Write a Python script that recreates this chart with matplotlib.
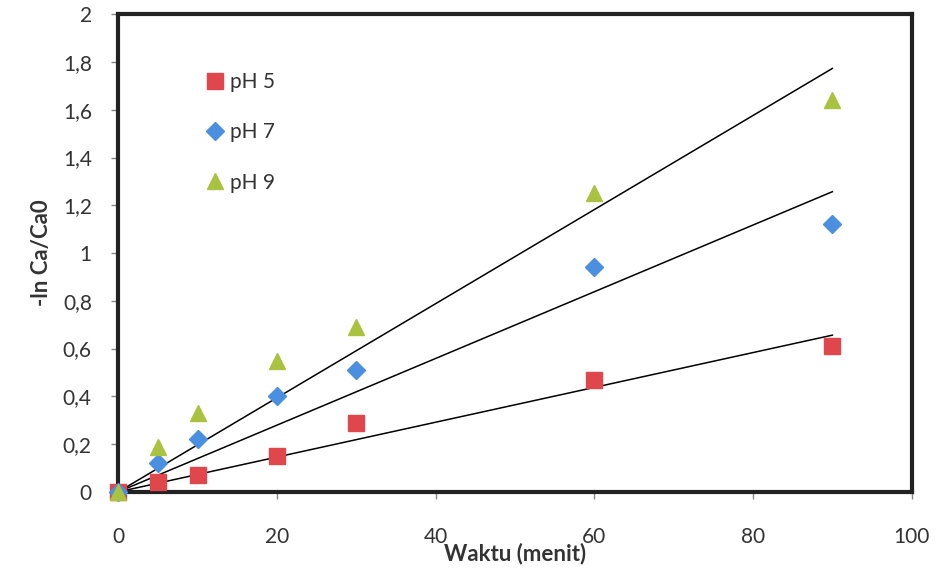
import numpy as np
import matplotlib.pyplot as plt

# Data
waktu = [0, 5, 10, 20, 30, 60, 90]
ph5 = [0, 0.04, 0.07, 0.15, 0.29, 0.47, 0.61]
ph7 = [0, 0.12, 0.22, 0.40, 0.51, 0.94, 1.12]
ph9 = [0, 0.19, 0.33, 0.55, 0.69, 1.25, 1.64]

plt.rcParams['font.family'] = ['Lato', 'DejaVu Sans']

fig = plt.figure(figsize=(9.38, 5.68), dpi=100)
ax = fig.add_axes([0.126, 0.134, 0.846, 0.841])

x = np.array(waktu, dtype=float)
series = [
    (ph5, "pH 5", "s", "#E0474C", 12),
    (ph7, "pH 7", "D", "#4A8FE0", 9),
    (ph9, "pH 9", "^", "#A9C23F", 12),
]

# Linear trendlines forced through the origin
for y, lab, m, c, ms in series:
    y = np.array(y)
    k = np.sum(x * y) / np.sum(x * x)
    ax.plot([0, 90], [0, 90 * k], color="black", lw=1.1, zorder=2)

for y, lab, m, c, ms in series:
    ax.plot(x, y, linestyle="none", marker=m, color=c, markersize=ms,
            label=lab, zorder=3, clip_on=False)

ax.set_xlim(0, 100)
ax.set_ylim(0, 2)
ax.set_xticks([0, 20, 40, 60, 80, 100])
yt = np.arange(0, 2.01, 0.2)
ax.set_yticks(yt)
ax.set_yticklabels([f"{v:.1f}".replace(".", ",").replace(",0", "") for v in yt])

for s in ax.spines.values():
    s.set_linewidth(3)
    s.set_color("#222222")

ax.tick_params(axis="both", labelsize=15, length=5, width=1, color="#888888",
               colors="#333333", pad=14)
ax.tick_params(axis="x", pad=20)

ax.set_xlabel("Waktu (menit)", fontsize=16, fontweight="bold", color="#333333", labelpad=-3)
ax.set_ylabel("-ln Ca/Ca0", fontsize=16, fontweight="bold", color="#333333", labelpad=8)

ax.legend(loc="upper left", bbox_to_anchor=(0.083, 0.918), frameon=False,
          fontsize=15, handletextpad=0.1, labelspacing=1.45, handlelength=1.2,
          labelcolor="#333333")

fig.savefig("out.png", dpi=100)
